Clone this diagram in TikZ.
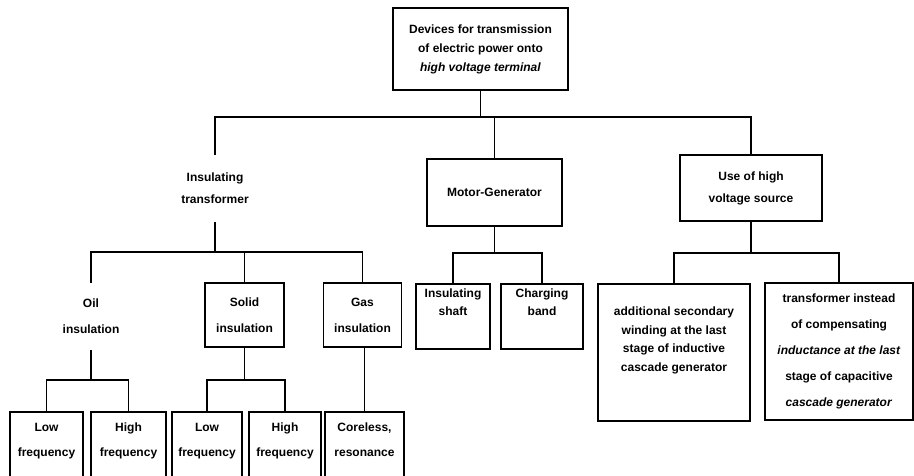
\documentclass[tikz,border=0pt]{standalone}
\usepackage{fontspec}
\setmainfont{Liberation Sans}
\begin{document}
\begin{tikzpicture}[x=1pt,y=-1pt,
  box/.style={draw, line width=1.1pt, align=center, inner sep=0pt},
  plain/.style={align=center, inner sep=0pt},
  sp18/.style={font=\fontsize{12}{18.5}\selectfont\bfseries},
  sp19/.style={font=\fontsize{12}{19}\selectfont\bfseries},
  sp22/.style={font=\fontsize{12}{22}\selectfont\bfseries},
  sp25/.style={font=\fontsize{12}{25}\selectfont\bfseries},
  sp26/.style={font=\fontsize{12}{26}\selectfont\bfseries},
  conn/.style={line width=1.1pt}]
\useasboundingbox (0,0) rectangle (914,475);
\clip (0,0) rectangle (914,475);

% level 1
\node[box, sp19, minimum width=175pt, minimum height=82pt] (top) at (480.5,49)
  {Devices for transmission\\of electric power onto\\\textit{high voltage terminal}};

% level 2
\node[plain, sp22, minimum width=100pt, minimum height=67pt] (ins) at (215,188.5)
  {Insulating\\transformer};
\node[box, sp19, minimum width=135pt, minimum height=67pt] (mg) at (494.5,192.5)
  {Motor-Generator};
\node[box, sp22, minimum width=142pt, minimum height=66pt] (use) at (751,188)
  {Use of high\\voltage source};

% level 3
\node[plain, sp26, minimum width=70pt, minimum height=67pt] (oil) at (91,316.5)
  {Oil\\insulation};
\node[box, sp26, minimum width=79pt, minimum height=64pt] (solid) at (244.5,315)
  {Solid\\insulation};
\node[box, sp26, minimum width=78pt, minimum height=64pt] (gas) at (362.5,315)
  {Gas\\insulation};
\node[box, sp18, minimum width=74pt, minimum height=65pt] (shaft) at (453,316.5)
  {Insulating\\shaft\\[10pt]\mbox{}};
\node[box, sp18, minimum width=82pt, minimum height=65pt] (band) at (542,316.5)
  {Charging\\band\\[10pt]\mbox{}};
\node[box, sp18, minimum width=152pt, minimum height=137pt] (add) at (674,352.5)
  {additional secondary\\winding at the last\\stage of\ inductive\\cascade generator\\[8pt]\mbox{}};
\node[box, sp26, minimum width=148pt, minimum height=137pt] (trans) at (839,351.5)
  {transformer instead\\of compensating\\\textit{inductance at the last}\\stage of capacitive\\\textit{cascade generator}};

% level 4
\node[box, sp25, minimum width=73pt, minimum height=80pt] (lf1) at (46.5,452)
  {Low\\frequency\\\mbox{}};
\node[box, sp25, minimum width=75pt, minimum height=80pt] (hf1) at (128.5,452)
  {High\\frequency\\\mbox{}};
\node[box, sp25, minimum width=70pt, minimum height=80pt] (lf2) at (207,452)
  {Low\\frequency\\\mbox{}};
\node[box, sp25, minimum width=72pt, minimum height=80pt] (hf2) at (285,452)
  {High\\frequency\\\mbox{}};
\node[box, sp25, minimum width=79pt, minimum height=80pt] (cor) at (364.5,452)
  {Coreless,\\resonance\\\mbox{}};

% bus levels
\coordinate (b1) at (0,117);
\coordinate (b2) at (0,252);
\coordinate (b3) at (0,253);
\coordinate (b4) at (0,380);

% connectors level 1-2
\draw[conn] (top.south) -- (top.south |- b1);
\draw[conn] (ins.north) -- (ins.north |- b1) -- (use.north |- b1) -- (use.north);
\draw[conn] (mg.north) -- (mg.north |- b1);

% connectors level 2-3
\draw[conn] (ins.south) -- (ins.south |- b2);
\draw[conn] (oil.north) -- (oil.north |- b2) -- (gas.north |- b2) -- (gas.north);
\draw[conn] (solid.north) -- (solid.north |- b2);

\draw[conn] (mg.south) -- (mg.south |- b3);
\draw[conn] (shaft.north) -- (shaft.north |- b3) -- (band.north |- b3) -- (band.north);

\draw[conn] (use.south) -- (use.south |- b3);
\draw[conn] (add.north) -- (add.north |- b3) -- (trans.north |- b3) -- (trans.north);

% connectors level 3-4
\draw[conn] (oil.south) -- (oil.south |- b4);
\draw[conn] (lf1.north) -- (lf1.north |- b4) -- (hf1.north |- b4) -- (hf1.north);
\draw[conn] (solid.south) -- (solid.south |- b4);
\draw[conn] (lf2.north) -- (lf2.north |- b4) -- (hf2.north |- b4) -- (hf2.north);
\draw[conn] (cor.north) -- (cor.north |- gas.south);
\end{tikzpicture}
\end{document}
